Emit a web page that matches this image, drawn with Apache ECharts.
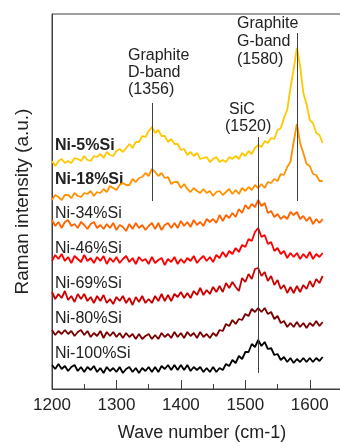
<!DOCTYPE html>
<html>
<head>
<meta charset="utf-8">
<script src="https://cdn.jsdelivr.net/npm/echarts@6/dist/echarts.min.js"></script>
<style>
  html, body { margin: 0; padding: 0; background: #fff; }
  #chart { width: 340px; height: 442px; }
</style>
</head>
<body>
<div id="chart"></div>
<script>
// Raman spectra, stacked (intensity offsets already included, a.u.)
const waveNumbers = [
  1200,1205,1210,1215,1220,1225,1230,1235,1240,1245,
  1250,1255,1260,1265,1270,1275,1280,1285,1290,1295,
  1300,1305,1310,1315,1320,1325,1330,1335,1340,1345,
  1350,1355,1360,1365,1370,1375,1380,1385,1390,1395,
  1400,1405,1410,1415,1420,1425,1430,1435,1440,1445,
  1450,1455,1460,1465,1470,1475,1480,1485,1490,1495,
  1500,1505,1510,1515,1520,1525,1530,1535,1540,1545,
  1550,1555,1560,1565,1570,1575,1580,1585,1590,1595,
  1600,1605,1610,1615,1620
];

const ni5 = [
  228,223,228,230,226,228,226,231,230,228,
  233,229,228,233,232,235,231,237,234,233,
  238,240,237,241,245,241,247,247,253,252,
  258,262,256,259,253,253,247,250,245,245,
  239,240,234,237,233,236,230,231,232,227,
  230,232,227,229,227,232,230,233,230,236,
  233,238,235,241,244,242,248,246,251,250,
  259,261,271,279,301,320,341,323,296,285,
  269,266,256,254,246
];
const ni18 = [
  189,194,192,189,194,194,191,196,193,192,
  196,195,198,193,197,196,200,197,203,201,
  199,204,206,204,204,210,207,211,212,216,
  213,220,217,213,216,211,212,205,207,207,
  201,205,200,197,201,198,196,200,196,198,
  193,197,198,194,197,200,195,199,195,201,
  198,202,199,204,201,205,201,207,206,210,
  208,215,214,222,227,247,265,246,236,225,
  223,215,214,208,208
];
const ni34 = [
  169,163,167,161,167,169,163,165,161,167,
  164,160,165,167,161,164,160,165,161,166,
  159,164,162,158,165,160,166,161,164,159,
  163,166,160,166,159,164,166,161,166,161,
  168,163,167,162,169,164,167,163,170,167,
  170,166,174,168,174,171,176,172,180,176,
  184,180,185,182,189,183,186,176,178,172,
  175,170,173,170,177,174,177,170,173,168,
  172,165,170,166,170
];
const ni46 = [
  128,134,130,135,128,132,126,133,130,127,
  134,128,131,126,132,128,133,125,131,127,
  132,126,130,133,127,131,125,132,128,130,
  125,132,126,129,131,124,130,127,132,125,
  130,126,131,128,133,126,130,133,128,132,
  127,134,131,137,132,138,135,141,137,144,
  142,150,148,157,161,152,154,145,147,138,
  141,135,138,131,136,132,136,130,135,131,
  137,130,135,132,136
];
const ni69 = [
  97,90,95,91,98,89,93,87,95,90,
  95,88,92,86,93,88,94,86,90,85,
  92,88,93,86,91,84,92,87,93,86,
  90,86,93,88,95,88,94,88,95,92,
  97,91,96,91,98,94,101,94,99,95,
  102,97,103,97,106,101,107,102,98,111,
  107,115,110,120,121,113,117,108,113,104,
  109,100,104,96,102,96,103,97,104,100,
  108,102,110,106,113
];
const ni80 = [
  59,54,58,55,59,55,58,53,57,59,
  54,58,52,56,53,58,51,57,53,57,
  52,56,51,56,52,55,50,55,50,53,
  55,50,54,50,56,52,55,51,57,52,
  56,51,57,53,56,51,57,52,55,51,
  56,53,59,58,65,63,69,65,70,69,
  75,73,80,77,81,77,81,75,77,70,
  73,66,68,62,66,62,67,62,66,61,
  66,63,68,63,67
];
const ni100 = [
  24,20,25,20,23,18,22,24,18,22,
  17,22,19,23,17,21,16,22,18,21,
  17,22,16,20,22,17,21,16,21,18,
  22,17,22,17,23,20,24,19,24,19,
  24,19,24,18,22,19,22,17,21,17,
  22,17,21,19,25,23,29,26,33,30,
  37,37,45,42,49,43,47,40,41,34,
  35,29,32,27,31,26,30,27,31,27,
  31,27,31,28,32
];

const seriesNames = ['Ni-5%Si', 'Ni-18%Si', 'Ni-34%Si', 'Ni-46%Si', 'Ni-69%Si', 'Ni-80%Si', 'Ni-100%Si'];
const seriesValues = [ni5, ni18, ni34, ni46, ni69, ni80, ni100];
const seriesColors = ['#ffc800', '#ff9200', '#ff6400', '#ff0000', '#cc0000', '#7a0000', '#000000'];

// band markers: position and the intensity span of each guide line
const bandPositions = [1356, 1520, 1580];
const bandLow = [188, 16, 188];
const bandHigh = [286, 252, 356];

const FONT = '"Liberation Sans", Arial, sans-serif';
const chart = echarts.init(document.getElementById('chart'));

const series = seriesNames.map((name, i) => ({
  type: 'line',
  name: name,
  data: waveNumbers.map((w, j) => [w, seriesValues[i][j]]),
  showSymbol: false,
  lineStyle: { color: seriesColors[i], width: 1.8 },
  itemStyle: { color: seriesColors[i] },
  z: 2,
}));

series.push({
  type: 'line',
  data: [],
  silent: true,
  z: 5,
  markLine: {
    silent: true,
    symbol: 'none',
    label: { show: false },
    lineStyle: { color: '#404040', width: 1, type: 'solid' },
    data: bandPositions.map((p, i) => [{ coord: [p, bandLow[i]] }, { coord: [p, bandHigh[i]] }]),
  },
});

// label texts placed in pixels
const labelY = [146, 180, 214, 249, 284, 319, 354];
const graphics = seriesNames.map((name, i) => ({
  type: 'text',
  x: 55,
  y: labelY[i],
  style: {
    text: name,
    font: (i < 2 ? 'bold ' : '') + '16px ' + FONT,
    fill: '#222',
    verticalAlign: 'middle',
  },
}));

const notes = [
  ['Graphite', 128, 56], ['D-band', 128, 73], ['(1356)', 128, 90],
  ['Graphite', 237, 24], ['G-band', 237, 42], ['(1580)', 237, 60],
  ['SiC', 229, 110], ['(1520)', 225, 127],
];
notes.forEach(([t, x, y]) => {
  graphics.push({
    type: 'text',
    x: x,
    y: y,
    style: { text: t, font: '16px ' + FONT, fill: '#222', verticalAlign: 'middle' },
  });
});

const option = {
  animation: false,
  backgroundColor: '#fff',
  grid: {
    left: 52,
    right: -2,
    top: 14,
    bottom: 53,
    outerBoundsMode: 'none',
    containLabel: false,
    show: true,
    borderColor: '#404040',
    borderWidth: 1,
  },
  xAxis: [
    {
      type: 'value',
      min: 1200,
      max: 1650,
      interval: 100,
      name: 'Wave number (cm-1)',
      nameLocation: 'middle',
      nameGap: 35,
      nameTextStyle: { fontFamily: FONT, fontSize: 18, color: '#222', padding: [0, 0, 0, 10] },
      axisLine: { show: true, lineStyle: { color: '#404040' } },
      axisTick: { show: true, inside: true, length: 9, lineStyle: { color: '#404040' } },
      axisLabel: {
        fontFamily: FONT,
        fontSize: 17,
        color: '#222',
        margin: 8,
        formatter: (v) => (v % 100 === 0 && v <= 1600 ? String(v) : ''),
      },
      splitLine: { show: false },
    },
    {
      type: 'value',
      min: 1200,
      max: 1650,
      interval: 50,
      position: 'bottom',
      axisLine: { show: false },
      axisTick: { show: true, inside: true, length: 5, lineStyle: { color: '#404040' } },
      axisLabel: { show: false },
      splitLine: { show: false },
    },
  ],
  yAxis: {
    type: 'value',
    min: 0,
    max: 375,
    name: 'Raman intensity (a.u.)',
    nameLocation: 'middle',
    nameGap: 20,
    nameTextStyle: { fontFamily: FONT, fontSize: 19, color: '#222' },
    axisLine: { show: true, lineStyle: { color: '#404040' } },
    axisTick: { show: false },
    axisLabel: { show: false },
    splitLine: { show: false },
  },
  graphic: graphics,
  series: series,
};

chart.setOption(option);
</script>
</body>
</html>
